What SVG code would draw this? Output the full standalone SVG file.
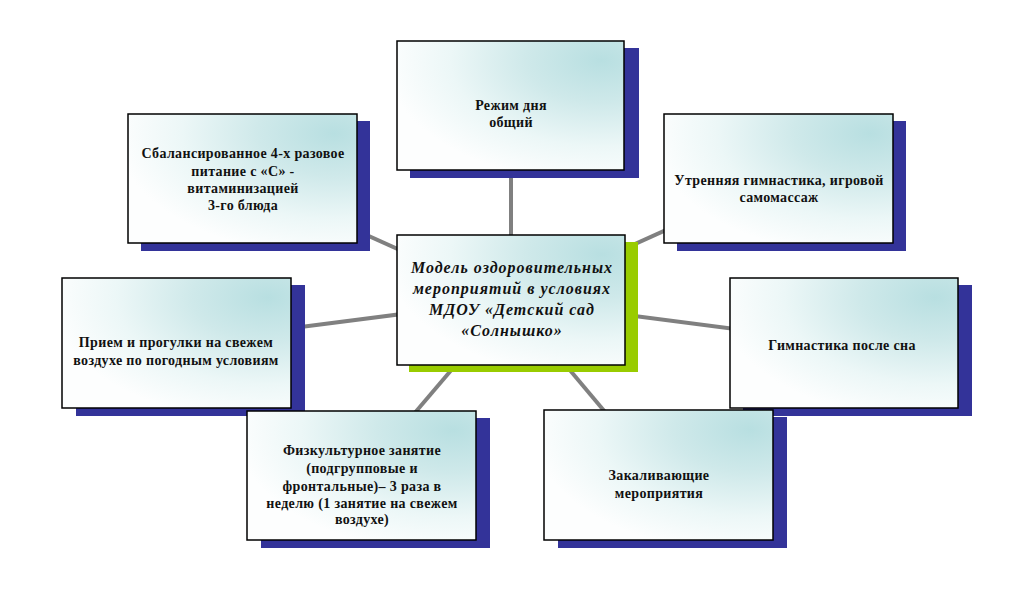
<svg xmlns="http://www.w3.org/2000/svg" width="1021" height="601" viewBox="0 0 1021 601">
<style>
.sh{fill:#333399}
.shc{fill:#99cc00}
.box{fill:url(#g);stroke:#000;stroke-width:1.5}
.t{font-family:"Liberation Serif","Times New Roman",serif;font-weight:bold;font-size:14px;letter-spacing:0.35px;fill:#111;text-anchor:middle}
.c{font-family:"Liberation Serif","Times New Roman",serif;font-weight:bold;font-style:italic;font-size:16px;letter-spacing:1px;fill:#111;text-anchor:middle}
.ln{stroke:#808080;stroke-width:4;fill:none}
</style>
<defs>
<radialGradient id="g" cx="0.9" cy="0.15" r="0.95">
<stop offset="0" stop-color="#b8dfe1"/>
<stop offset="0.35" stop-color="#cfe9ea"/>
<stop offset="0.7" stop-color="#ecf7f7"/>
<stop offset="1" stop-color="#fdfefe"/>
</radialGradient>
</defs>
<rect width="1021" height="601" fill="#fff"/>
<g id="connectors">
<line class="ln" x1="511" y1="300" x2="511" y2="106"/>
<line class="ln" x1="511" y1="300" x2="242" y2="179"/>
<line class="ln" x1="511" y1="300" x2="779" y2="179"/>
<line class="ln" x1="511" y1="300" x2="176" y2="343"/>
<line class="ln" x1="511" y1="300" x2="844" y2="343"/>
<line class="ln" x1="511" y1="300" x2="361" y2="476"/>
<line class="ln" x1="511" y1="300" x2="658" y2="475"/>
</g>
<g id="n-top">
<rect class="sh" x="410" y="48" width="229" height="130"/>
<rect class="box" x="397" y="41" width="227" height="129"/>
<text class="t" x="511" y="110">Режим дня</text>
<text class="t" x="511" y="127">общий</text>
</g>
<g id="n-topleft">
<rect class="sh" x="141" y="121" width="229" height="130"/>
<rect class="box" x="128" y="114" width="229" height="129"/>
<text class="t" x="243" y="158">Сбалансированное 4-х разовое</text>
<text class="t" x="243" y="176">питание с «С» -</text>
<text class="t" x="243" y="193">витаминизацией</text>
<text class="t" x="243" y="210">3-го блюда</text>
</g>
<g id="n-topright">
<rect class="sh" x="677" y="121" width="229" height="130"/>
<rect class="box" x="664" y="114" width="229" height="129"/>
<text class="t" x="779" y="185">Утренняя гимнастика, игровой</text>
<text class="t" x="779" y="202">самомассаж</text>
</g>
<g id="n-left">
<rect class="sh" x="76" y="285" width="229" height="131"/>
<rect class="box" x="62" y="278" width="229" height="130"/>
<text class="t" x="176" y="347">Прием и прогулки на свежем</text>
<text class="t" x="176" y="365">воздухе по погодным условиям</text>
</g>
<g id="n-right">
<rect class="sh" x="743" y="285" width="229" height="131"/>
<rect class="box" x="730" y="278" width="228" height="130"/>
<text class="t" x="842" y="350">Гимнастика после сна</text>
</g>
<g id="n-bottomleft">
<rect class="sh" x="261" y="418" width="229" height="130"/>
<rect class="box" x="247" y="411" width="229" height="129"/>
<text class="t" x="362" y="455">Физкультурное занятие</text>
<text class="t" x="362" y="473">(подгрупповые и</text>
<text class="t" x="362" y="491">фронтальные)– 3 раза в</text>
<text class="t" x="362" y="508">неделю (1 занятие на свежем</text>
<text class="t" x="362" y="524">воздухе)</text>
</g>
<g id="n-bottomright">
<rect class="sh" x="558" y="417" width="229" height="131"/>
<rect class="box" x="544" y="410" width="229" height="130"/>
<text class="t" x="659" y="480">Закаливающие</text>
<text class="t" x="659" y="498">мероприятия</text>
</g>
<g id="n-center">
<rect class="shc" x="409" y="242" width="229" height="130"/>
<rect class="box" x="397" y="235" width="228" height="130"/>
<text class="c" x="512" y="273">Модель оздоровительных</text>
<text class="c" x="512" y="294">мероприятий в условиях</text>
<text class="c" x="512" y="315">МДОУ «Детский сад</text>
<text class="c" x="512" y="336">«Солнышко»</text>
</g>
</svg>
